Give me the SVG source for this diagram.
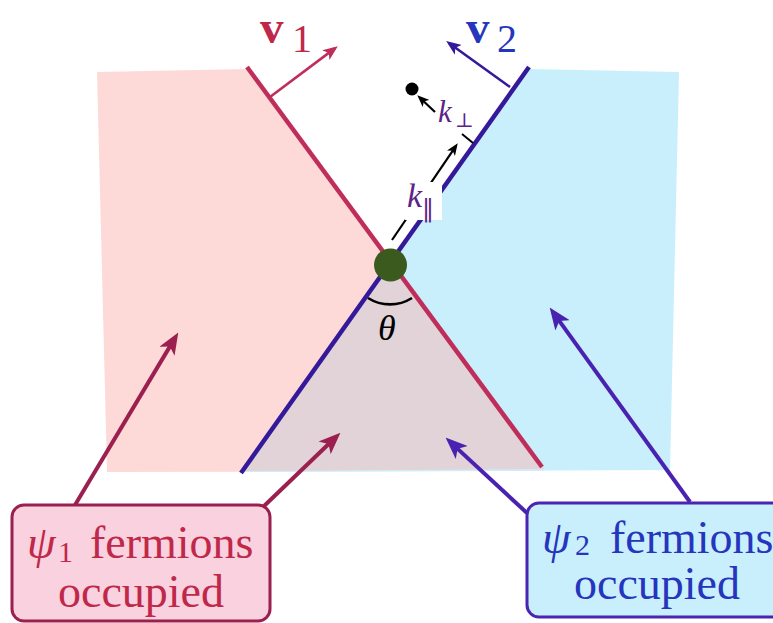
<svg xmlns="http://www.w3.org/2000/svg" width="773" height="623" viewBox="0 0 773 623">
<style>
.serif{font-family:"Liberation Serif","DejaVu Serif",serif}
.it{font-style:italic}
.c1{fill:#c0284a}
.c2{fill:#2536bd}
.kp{fill:#5e2287}
.a1{stroke:#9b1f4f;stroke-width:4;fill:none}
.a2{stroke:#4a22b0;stroke-width:4;fill:none}
</style>
<defs>
<marker id="mP1" viewBox="0 0 20 16" markerUnits="userSpaceOnUse" markerWidth="22" markerHeight="17.6" refX="14" refY="8" orient="auto"><path d="M0,0 L20,8 L0,16 L5,8 z" fill="#9b1f4f"/></marker>
<marker id="mP2" viewBox="0 0 20 16" markerUnits="userSpaceOnUse" markerWidth="22" markerHeight="17.6" refX="14" refY="8" orient="auto"><path d="M0,0 L20,8 L0,16 L5,8 z" fill="#4a22b0"/></marker>
<marker id="mV1" viewBox="0 0 20 16" markerUnits="userSpaceOnUse" markerWidth="15" markerHeight="12" refX="15" refY="8" orient="auto"><path d="M0,0 L20,8 L0,16 L5,8 z" fill="#bf2e5a"/></marker>
<marker id="mV2" viewBox="0 0 20 16" markerUnits="userSpaceOnUse" markerWidth="15" markerHeight="12" refX="15" refY="8" orient="auto"><path d="M0,0 L20,8 L0,16 L5,8 z" fill="#34199a"/></marker>
<marker id="mK" viewBox="0 0 20 16" markerUnits="userSpaceOnUse" markerWidth="12" markerHeight="9.6" refX="14" refY="8" orient="auto"><path d="M0,0 L20,8 L0,16 L5,8 z" fill="#000"/></marker>
</defs>

<g id="regions">
<polygon id="psi1-region" points="97,72 246,69 544,471 107,472" fill="#fddad7"/>
<polygon id="psi2-region" points="529,69 679,72 670,470 241,472" fill="#c9effd"/>
<polygon id="overlap-region" points="390,263 242,471 544,469" fill="#e1d3d7"/>
</g>

<g id="fermi-lines">
<line x1="247" y1="67" x2="542" y2="467" stroke="#bf2e5a" stroke-width="4.5"/>
<line x1="241" y1="473" x2="529" y2="67" stroke="#34199a" stroke-width="4.5"/>
</g>

<g id="connectors">
<line x1="270" y1="97" x2="334.8" y2="48.4" stroke="#bf2e5a" stroke-width="2.6" marker-end="url(#mV1)"/>
<line x1="510" y1="87" x2="449.2" y2="43.3" stroke="#34199a" stroke-width="2.6" marker-end="url(#mV2)"/>
<line x1="435" y1="112" x2="419.9" y2="97.7" stroke="#000" stroke-width="2.2" marker-end="url(#mK)"/>
<line x1="392" y1="240" x2="455.7" y2="146.3" stroke="#000" stroke-width="2.2" marker-end="url(#mK)"/>
<line x1="462" y1="134" x2="473" y2="143" stroke="#000" stroke-width="2"/>
<path d="M368,298 A41,41 0 0 0 412,298" fill="none" stroke="#000" stroke-width="2.6"/>
<line class="a1" x1="75" y1="505" x2="174.9" y2="338.1" marker-end="url(#mP1)"/>
<line class="a1" x1="262" y1="508" x2="335.7" y2="437.2" marker-end="url(#mP1)"/>
<line class="a2" x1="690" y1="502" x2="553.5" y2="312.9" marker-end="url(#mP2)"/>
<line class="a2" x1="527" y1="513" x2="450.4" y2="442.1" marker-end="url(#mP2)"/>
</g>

<g id="crossing-point">
<circle cx="390.5" cy="265" r="16.5" fill="#3b5a1e"/>
</g>
<g id="k-point">
<circle cx="412" cy="89" r="6.5" fill="#000"/>
</g>

<g id="label-v1">
<text class="serif c1" x="260" y="43" font-size="47" font-weight="bold">v</text>
<text class="serif c1" x="292" y="52" font-size="40">1</text>
</g>
<g id="label-v2">
<text class="serif c2" x="466" y="43" font-size="47" font-weight="bold">v</text>
<text class="serif c2" x="497" y="52" font-size="40">2</text>
</g>
<g id="label-kperp">
<text class="serif it kp" x="438" y="122" font-size="31">k</text>
<text class="kp" x="455" y="127" font-size="20" font-family="DejaVu Serif, serif">⊥</text>
</g>
<g id="label-kpar">
<rect x="405" y="182" width="37" height="38" fill="#fff"/>
<text class="serif it kp" x="407" y="207" font-size="34">k</text>
<text class="kp" x="422" y="216" font-size="24" font-family="DejaVu Serif, serif">‖</text>
</g>
<g id="label-theta">
<text class="serif it" x="378" y="340" font-size="36" fill="#000">θ</text>
</g>

<g id="box-psi1">
<rect x="12" y="505" width="258" height="116" rx="12" fill="#f9d1df" stroke="#9b1f4f" stroke-width="3"/>
<text class="serif it c1" x="27" y="558" font-size="46">ψ</text>
<text class="serif c1" x="58" y="562" font-size="30">1</text>
<text class="serif c1" x="90" y="558" font-size="46">fermions</text>
<text class="serif c1" x="141" y="607" font-size="46" text-anchor="middle">occupied</text>
</g>
<g id="box-psi2">
<rect x="527" y="503" width="270" height="114" rx="12" fill="#c9effd" stroke="#4a24b2" stroke-width="3"/>
<text class="serif it c2" x="542" y="553" font-size="46">ψ</text>
<text class="serif c2" x="575" y="555" font-size="30">2</text>
<text class="serif c2" x="610" y="553" font-size="46">fermions</text>
<text class="serif c2" x="657" y="599" font-size="46" text-anchor="middle">occupied</text>
</g>
</svg>
